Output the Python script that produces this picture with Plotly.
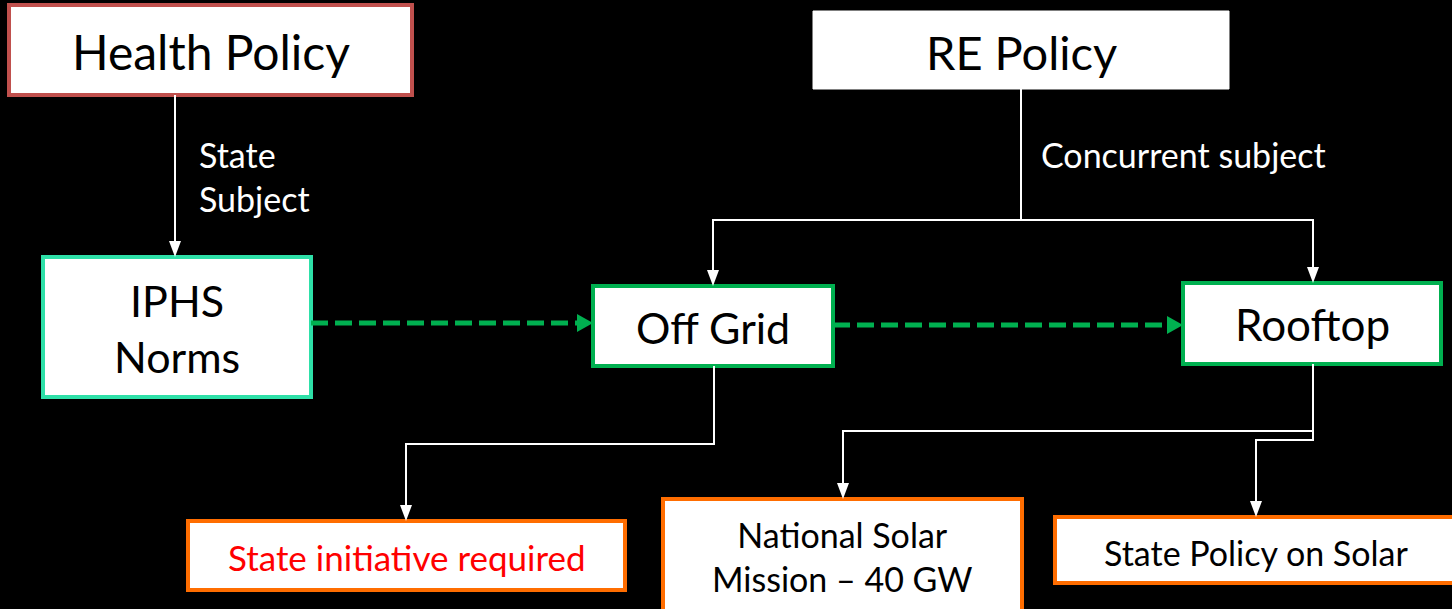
import plotly.graph_objects as go

# ---- content ----
box_labels = ["Health Policy", "RE Policy", "IPHS<br>Norms", "Off Grid", "Rooftop",
              "State initiative required", "National Solar<br>Mission \u2013 40 GW",
              "State Policy on Solar"]
edge_labels = ["State<br>Subject", "Concurrent subject"]

# ---- geometry (pixels, origin top-left) ----
boxes = [  # x0, y0, x1, y1, border colour, border width, font size, text colour, text y
    (9, 5, 412, 95, "#C0504D", 4, 48, "black", 51),
    (813, 11, 1229, 89, "white", 0, 47, "black", 52),
    (43, 257, 311, 397, "#2EE0A8", 4, 43, "black", 328),
    (593, 286, 833, 366, "#00B050", 4, 43, "black", 327),
    (1183, 283, 1441, 364, "#00B050", 4, 44, "black", 324),
    (188, 521, 625, 590, "#FF6D00", 4, 35, "#FF0000", 557),
    (663, 499, 1022, 612, "#FF6D00", 4, 34, "black", 556),
    (1055, 517, 1456, 583, "#FF6D00", 4, 34, "black", 552),
]

W, H = 1452, 609
fig = go.Figure()
shapes = []
annotations = []

for (x0, y0, x1, y1, bc, bw, fs, tc, ty), lab in zip(boxes, box_labels):
    shapes.append(dict(type="rect", x0=x0, y0=y0, x1=x1, y1=y1, fillcolor="white",
                       line=dict(color=bc if bw else "white", width=bw if bw else 1),
                       layer="above"))
    annotations.append(dict(x=(x0 + x1) / 2, y=ty,
                            text=lab, showarrow=False,
                            font=dict(family="Lato", size=fs, color=tc), align="center",
                            xanchor="center", yanchor="middle"))

def line(pts, color="white", width=2, dash="solid"):
    path = "M " + " L ".join(f"{x},{y}" for x, y in pts)
    shapes.append(dict(type="path", path=path, line=dict(color=color, width=width, dash=dash),
                       layer="above"))

def tri_down(x, y, w=12, h=16, color="white"):
    shapes.append(dict(type="path", path=f"M {x-w/2},{y-h} L {x+w/2},{y-h} L {x},{y} Z",
                       fillcolor=color, line=dict(color=color, width=0), layer="above"))

def tri_right(x, y, w=16, h=18, color="#00B050"):
    shapes.append(dict(type="path", path=f"M {x-w},{y-h/2} L {x-w},{y+h/2} L {x},{y} Z",
                       fillcolor=color, line=dict(color=color, width=0), layer="above"))

# Health -> IPHS
line([(175, 95), (175, 244)])
tri_down(175, 257)
# RE -> Off Grid / Rooftop
line([(1021, 89), (1021, 220)])
line([(713, 272), (713, 220), (1313, 220), (1313, 270)])
tri_down(713, 286)
tri_down(1313, 283)
# Off Grid -> State initiative
line([(714, 366), (714, 444), (406, 444), (406, 508)])
tri_down(406, 521)
# Rooftop -> National / State policy
line([(1313, 364), (1313, 431), (843, 431), (843, 486)])
tri_down(843, 499)
line([(1313, 431), (1313, 440), (1256, 440), (1256, 504)])
tri_down(1256, 517)
# dashed green arrows
line([(311, 323), (577, 323)], color="#00B050", width=5, dash="17px,7px")
tri_right(593, 323)
line([(833, 325), (1167, 325)], color="#00B050", width=5, dash="17px,7px")
tri_right(1183, 325)

annotations.append(dict(x=197, y=176, text=edge_labels[0], showarrow=False, align="left",
                        xanchor="left", yanchor="middle",
                        font=dict(family="Lato", size=34, color="white")))
annotations.append(dict(x=1039, y=154, text=edge_labels[1], showarrow=False, align="left",
                        xanchor="left", yanchor="middle",
                        font=dict(family="Lato", size=34, color="white")))

fig.update_layout(
    width=W, height=H, autosize=False,
    margin=dict(l=0, r=0, t=0, b=0),
    paper_bgcolor="black", plot_bgcolor="black",
    xaxis=dict(range=[0, W], visible=False, fixedrange=True),
    yaxis=dict(range=[H, 0], visible=False, fixedrange=True),
    shapes=shapes, annotations=annotations, showlegend=False,
)
fig.write_html("out.html", config={"displayModeBar": False},
               post_script="document.body.style.margin='0';document.body.style.overflow='hidden';")
